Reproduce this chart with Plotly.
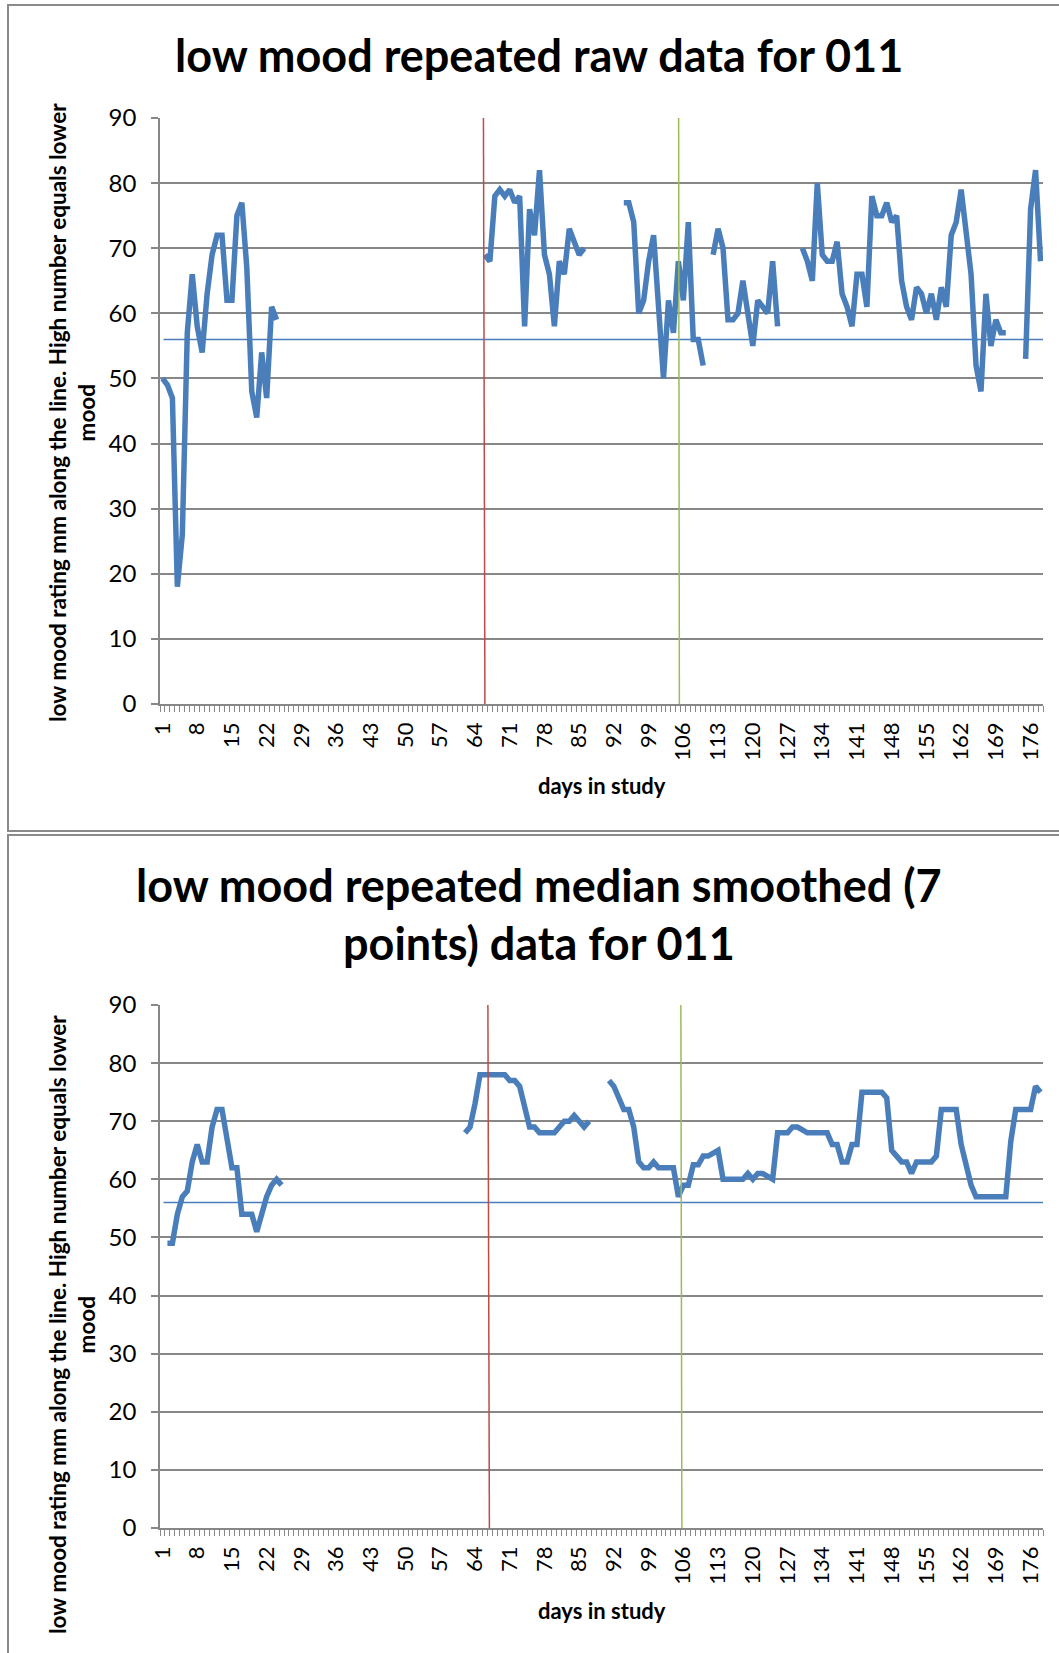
import plotly.graph_objects as go

W, H = 1059, 1653

# ---------------- data ----------------
n_days = 178
tick_days = list(range(1, 177, 7))          # 1, 8, 15, ... 176
tick_text = [str(d) for d in tick_days]
y_ticks = list(range(0, 91, 10))

threshold = 56                               # horizontal reference line

# raw series: start day of each run of consecutive days + values
raw_start = [1, 66, 94, 112, 130, 175]
raw_vals_1 = [50, 49, 47, 18, 26, 57, 66, 58, 54, 63, 69, 72, 72, 62, 62, 75, 77, 67, 48, 44, 54, 47, 61, 59]
raw_vals_2 = [69, 68, 78, 79, 78, 79, 77, 78, 58, 76, 72, 82, 69, 66, 58, 68, 66, 73, 71, 69, 70]
raw_vals_3 = [77, 77, 74, 60, 62, 68, 72, 61, 50, 62, 57, 68, 62, 74, 56, 56, 52]
raw_vals_4 = [69, 73, 70, 59, 59, 60, 65, 60, 55, 62, 61, 60, 68, 58]
raw_vals_5 = [70, 68, 65, 80, 69, 68, 68, 71, 63, 61, 58, 66, 66, 61, 78, 75, 75, 77, 74, 75,
              65, 61, 59, 64, 63, 60, 63, 59, 64, 61, 72, 74, 79, 73, 66, 52, 48, 63, 55, 59,
              57, 57]
raw_vals_6 = [53, 76, 82, 68]

# median smoothed (7 points) series
smooth_start = [2, 62, 91]
smooth_vals_1 = [49, 49, 54, 57, 58, 63, 66, 63, 63, 69, 72, 72, 67, 62, 62, 54, 54, 54, 51, 54, 57, 59, 60, 59]
smooth_vals_2 = [68, 69, 73, 78, 78, 78, 78, 78, 78, 77, 77, 76, 72, 69, 69, 68, 68, 68, 68, 69, 70, 70, 71, 70, 69, 70]
smooth_vals_3 = [77, 76, 74, 72, 72, 69, 63, 62, 62, 63,
                 62, 62, 62, 62, 57, 59, 59, 62.5, 62.5, 64,
                 64, 64.5, 65, 60, 60, 60, 60, 60, 61, 60,
                 61, 61, 60.5, 60, 68, 68, 68, 69, 69, 68.5,
                 68, 68, 68, 68, 68, 66, 66, 63, 63, 66,
                 66, 75, 75, 75, 75, 75, 74, 65, 64, 63,
                 63, 61, 63, 63, 63, 63, 64, 72, 72, 72,
                 72, 66, 62, 59, 57, 57, 57, 57, 57, 57,
                 57, 66.5, 72, 72, 72, 72, 76, 75]

# phase-change markers (day positions at top / bottom of each plot)
raw_red_day = [65.7, 66.0]
raw_green_day = [105.05, 105.2]
smooth_red_day = [66.6, 66.9]
smooth_green_day = [105.5, 105.7]

# ---------------- helpers ----------------
def build(starts, segs):
    xs, ys = [], []
    for s, vals in zip(starts, segs):
        if xs:
            xs.append(None)
            ys.append(None)
        xs.extend(range(s, s + len(vals)))
        ys.extend(vals)
    return xs, ys

raw_x, raw_y = build(raw_start, [raw_vals_1, raw_vals_2, raw_vals_3, raw_vals_4, raw_vals_5, raw_vals_6])
sm_x, sm_y = build(smooth_start, [smooth_vals_1, smooth_vals_2, smooth_vals_3])

FONT = "Lato"
GRID = "#878787"
BLUE = "#4a7ebb"
RED = "#be4b48"
GREEN = "#9bbb59"

def px(x):
    return x / W

def py(y):
    return 1 - y / H

fig = go.Figure()
fig.add_trace(go.Scatter(x=raw_x, y=raw_y, mode="lines", connectgaps=False,
                         line=dict(color=BLUE, width=5.5), xaxis="x", yaxis="y",
                         showlegend=False, hoverinfo="skip"))
fig.add_trace(go.Scatter(x=sm_x, y=sm_y, mode="lines", connectgaps=False,
                         line=dict(color=BLUE, width=5.5), xaxis="x2", yaxis="y2",
                         showlegend=False, hoverinfo="skip"))

xdom = [px(160), px(1043)]

def xaxis_cfg(anchor):
    return dict(
        domain=xdom, anchor=anchor, range=[0.5, n_days + 0.5],
        tickmode="array", tickvals=tick_days, ticktext=tick_text, tickangle=-90,
        ticks="", showgrid=False, zeroline=False,
        showline=True, linecolor=GRID, linewidth=1.5,
        tickfont=dict(family=FONT, size=22, color="#000"),
        ticklabelstandoff=8, automargin=False,
        minor=dict(ticks="outside", tickmode="linear", tick0=0.5, dtick=1,
                   ticklen=6, tickcolor=GRID, tickwidth=1, showgrid=False),
    )

def yaxis_cfg(anchor, dom):
    return dict(
        domain=dom, anchor=anchor, range=[0, 90],
        tickmode="array", tickvals=y_ticks,
        showgrid=True, gridcolor=GRID, gridwidth=1.5, zeroline=False,
        showline=True, linecolor=GRID, linewidth=1.5,
        ticks="outside", ticklen=7, tickcolor=GRID, tickwidth=1.5,
        tickfont=dict(family=FONT, size=24, color="#000"),
        ticklabelstandoff=10, automargin=False,
    )

shapes = []
# chart frames
shapes.append(dict(type="rect", xref="paper", yref="paper",
                   x0=px(8), x1=px(1075), y0=py(5), y1=py(831),
                   line=dict(color="#8a8a8a", width=2), fillcolor="rgba(0,0,0,0)"))
shapes.append(dict(type="rect", xref="paper", yref="paper",
                   x0=px(8), x1=px(1075), y0=py(835), y1=py(1665),
                   line=dict(color="#8a8a8a", width=2), fillcolor="rgba(0,0,0,0)"))

for xr, yr in (("x", "y"), ("x2", "y2")):
    shapes.append(dict(type="line", xref=xr + " domain", yref=yr,
                       x0=0.004, x1=1.0, y0=threshold, y1=threshold,
                       line=dict(color=BLUE, width=1.5), layer="above"))

for xr, yr, red, green in (("x", "y", raw_red_day, raw_green_day),
                           ("x2", "y2", smooth_red_day, smooth_green_day)):
    shapes.append(dict(type="line", xref=xr, yref=yr, x0=red[0], x1=red[1], y0=90, y1=0,
                       line=dict(color=RED, width=1.5), layer="above"))
    shapes.append(dict(type="line", xref=xr, yref=yr, x0=green[0], x1=green[1], y0=90, y1=0,
                       line=dict(color=GREEN, width=1.5), layer="above"))

ytitle = "low mood rating mm along the line. High number equals lower<br>mood"
TITLE_SIZE = 45
annotations = [
    dict(text="<b>low mood repeated raw data for 011</b>", x=px(539), y=py(55),
         font=dict(family=FONT, size=TITLE_SIZE, color="#000")),
    dict(text="<b>low mood repeated median smoothed (7</b>", x=px(539), y=py(885),
         font=dict(family=FONT, size=TITLE_SIZE, color="#000")),
    dict(text="<b>points) data for 011</b>", x=px(539), y=py(943),
         font=dict(family=FONT, size=TITLE_SIZE, color="#000")),
    dict(text="<b>days in study</b>", x=px(602), y=py(785),
         font=dict(family=FONT, size=22, color="#000")),
    dict(text="<b>days in study</b>", x=px(602), y=py(1610),
         font=dict(family=FONT, size=22, color="#000")),
    dict(text="<b>" + ytitle + "</b>", x=px(72), y=py(413), textangle=-90,
         font=dict(family=FONT, size=22.5, color="#000")),
    dict(text="<b>" + ytitle + "</b>", x=px(72), y=py(1325), textangle=-90,
         font=dict(family=FONT, size=22.5, color="#000")),
]
for a in annotations:
    a.update(xref="paper", yref="paper", showarrow=False, xanchor="center", yanchor="middle")

fig.update_layout(
    width=W, height=H, autosize=False,
    margin=dict(l=0, r=0, t=0, b=0, pad=0),
    paper_bgcolor="white", plot_bgcolor="white",
    xaxis=xaxis_cfg("y"),
    yaxis=yaxis_cfg("x", [py(704), py(118)]),
    xaxis2=xaxis_cfg("y2"),
    yaxis2=yaxis_cfg("x2", [py(1528), py(1005)]),
    shapes=shapes,
    annotations=annotations,
    showlegend=False,
)

fig.write_html(
    "out.html",
    post_script="document.body.style.margin='0';document.body.style.padding='0';"
                "document.body.style.overflow='hidden';",
)
